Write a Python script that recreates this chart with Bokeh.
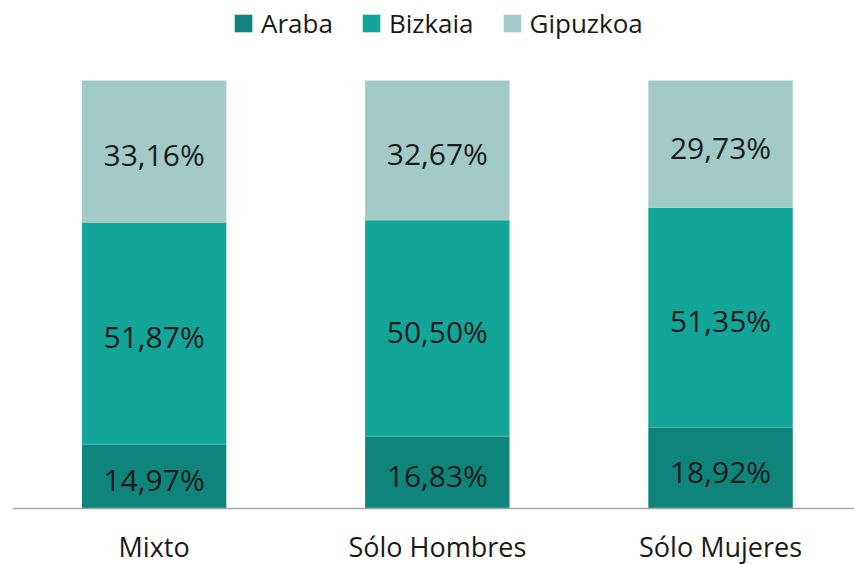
from bokeh.plotting import figure
from bokeh.models import Range1d, Legend, LegendItem, ColumnDataSource, Span
from bokeh.core.properties import value
from bokeh.embed import file_html
from bokeh.resources import INLINE

categories = ["Mixto", "Sólo Hombres", "Sólo Mujeres"]
araba = [14.97, 16.83, 18.92]
bizkaia = [51.87, 50.50, 51.35]
gipuzkoa = [33.16, 32.67, 29.73]
series_names = ["Araba", "Bizkaia", "Gipuzkoa"]
colors = ["#0E847C", "#13A49A", "#A2CBC7"]

FONT = "Open Sans"
TEXT_COLOR = "#1a1a1a"

p = figure(width=854, height=564, output_backend="svg", toolbar_location=None,
           x_range=Range1d(-0.5, 2.473), y_range=Range1d(-13.08, 118.69),
           min_border_left=12, min_border_right=0, min_border_top=0, min_border_bottom=0)
p.outline_line_color = None
p.xgrid.visible = False
p.ygrid.visible = False
p.xaxis.visible = False
p.yaxis.visible = False

xs = list(range(len(categories)))
series = [araba, bizkaia, gipuzkoa]
bottoms = [0.0] * len(categories)
items = []
for name, vals, col in zip(series_names, series, colors):
    tops = [b + v for b, v in zip(bottoms, vals)]
    mids = [(b + t) / 2 for b, t in zip(bottoms, tops)]
    src = ColumnDataSource(dict(x=xs, bottom=bottoms, top=tops, mid=mids,
                                label=[f"{v:.2f}%".replace(".", ",") for v in vals]))
    r = p.vbar(x="x", width=0.51, bottom="bottom", top="top", source=src,
               fill_color=col, line_color=None)
    p.text(x="x", y="mid", text="label", source=src, text_align="center",
           text_baseline="middle", text_font=value(FONT), text_font_size="30px",
           text_color=TEXT_COLOR, y_offset=3)
    items.append(LegendItem(label=name, renderers=[r]))
    bottoms = tops

# baseline (category axis line)
p.add_layout(Span(location=0, dimension="width", line_color="#a6a6a6", line_width=1.5))

# category labels
cat_src = ColumnDataSource(dict(x=xs, y=[-8.9] * len(xs), label=categories))
p.text(x="x", y="y", text="label", source=cat_src, text_align="center",
       text_baseline="middle", text_font=value(FONT), text_font_size="27px",
       text_color=TEXT_COLOR)

legend = Legend(items=items, orientation="horizontal", location=(220, 523),
                label_text_font=FONT, label_text_font_size="26px", label_text_color=TEXT_COLOR,
                glyph_width=22, glyph_height=22, spacing=27, label_standoff=7,
                padding=0, margin=0, border_line_color=None, background_fill_alpha=0)
p.add_layout(legend)

open("out.html", "w").write(file_html(p, INLINE))
